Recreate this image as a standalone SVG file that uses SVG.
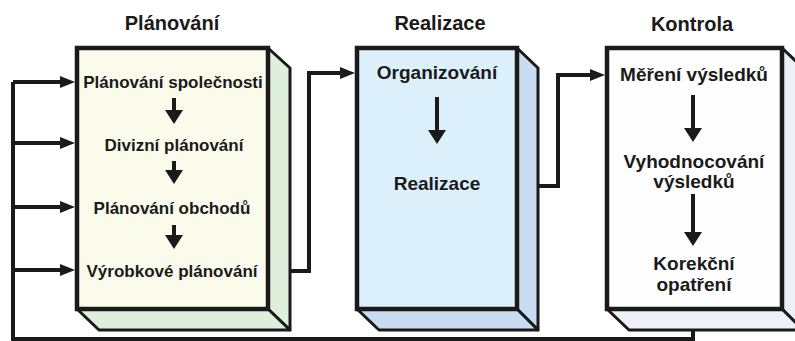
<svg xmlns="http://www.w3.org/2000/svg" width="795" height="341" viewBox="0 0 795 341">
<defs>
<style>
.front{stroke:#1a1a1a;stroke-width:4.5}
.side{stroke:#1a1a1a;stroke-width:3;stroke-linejoin:round}
.t{font-family:"Liberation Sans",Arial,Helvetica,sans-serif;font-weight:bold;fill:#1a1a1a;text-anchor:middle}
.title{font-size:20px}
.b1{font-size:17px}
.b2{font-size:19px}
.con{fill:none;stroke:#1a1a1a;stroke-width:4}
</style>
<marker id="ah" markerUnits="userSpaceOnUse" viewBox="0 0 15 12" refX="5" refY="6" markerWidth="15" markerHeight="12" orient="auto">
<path d="M0,0 L15,6 L0,12 z" fill="#1a1a1a"/>
</marker>
<marker id="dn" markerUnits="userSpaceOnUse" viewBox="0 0 14 18" refX="4" refY="9" markerWidth="14" markerHeight="18" orient="auto">
<path d="M0,0 L14,9 L0,18 z" fill="#1a1a1a"/>
</marker>
</defs>
<rect width="795" height="341" fill="#ffffff"/>

<g id="connectors">
<path class="con" d="M693,309 V339 H13 V82"/>
<path class="con" d="M13,82 H65" marker-end="url(#ah)"/>
<path class="con" d="M13,143 H65" marker-end="url(#ah)"/>
<path class="con" d="M13,207 H65" marker-end="url(#ah)"/>
<path class="con" d="M13,270 H65" marker-end="url(#ah)"/>
<path class="con" d="M268,271 H309 V73 H345" marker-end="url(#ah)"/>
<path class="con" d="M517,186 H558 V75 H595" marker-end="url(#ah)"/>
</g>

<g id="title-planovani"><text class="t title" x="172" y="30">Plánování</text></g>
<g id="title-realizace"><text class="t title" x="440" y="30">Realizace</text></g>
<g id="title-kontrola"><text class="t title" x="692" y="31">Kontrola</text></g>

<g id="box-planovani">
<polygon class="side" fill="#deefdc" points="268,48 290,68 290,330 268,309"/>
<polygon class="side" fill="#deefdc" points="77,309 99,330 290,330 268,309"/>
<rect class="front" x="77" y="48" width="191" height="261" fill="#fbfbec"/>
<text class="t b1" x="173" y="88">Plánování společnosti</text>
<text class="t b1" x="174" y="151">Divizní plánování</text>
<text class="t b1" x="172" y="214">Plánování obchodů</text>
<text class="t b1" x="172" y="277">Výrobkové plánování</text>
<path class="con" d="M174,98 V114" marker-end="url(#dn)"/>
<path class="con" d="M174,161 V174" marker-end="url(#dn)"/>
<path class="con" d="M174,225 V239" marker-end="url(#dn)"/>
</g>

<g id="box-realizace">
<polygon class="side" fill="#c8ddf2" points="517,48 538,68 538,330 517,309"/>
<polygon class="side" fill="#c8ddf2" points="357,309 379,330 538,330 517,309"/>
<rect class="front" x="357" y="48" width="160" height="261" fill="#dcf0fb"/>
<text class="t b2" x="437" y="79">Organizování</text>
<text class="t b2" x="437" y="190">Realizace</text>
<path class="con" d="M437,97 V134" marker-end="url(#dn)"/>
</g>

<g id="box-kontrola">
<polygon class="side" fill="#ebf1f7" points="782,48 803,68 803,330 782,309"/>
<polygon class="side" fill="#ebf1f7" points="607,309 629,330 803,330 782,309"/>
<rect class="front" x="607" y="48" width="175" height="261" fill="#fefefe"/>
<text class="t b2" x="694" y="81">Měření výsledků</text>
<text class="t b2" x="694" y="168">Vyhodnocování</text>
<text class="t b2" x="694" y="188">výsledků</text>
<text class="t b2" x="694" y="270">Korekční</text>
<text class="t b2" x="694" y="291">opatření</text>
<path class="con" d="M693,95 V132" marker-end="url(#dn)"/>
<path class="con" d="M693,194 V236" marker-end="url(#dn)"/>
</g>
</svg>
